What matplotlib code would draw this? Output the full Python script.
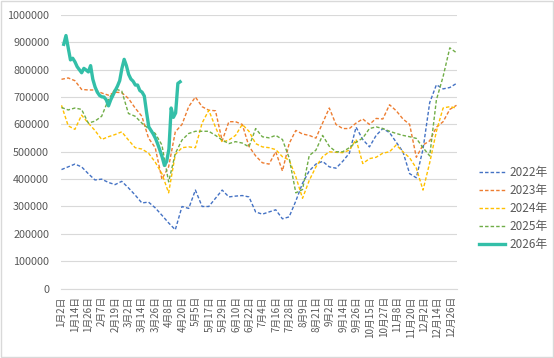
import numpy as np
import matplotlib
matplotlib.use('Agg')
import matplotlib.pyplot as plt

plt.rcParams['font.family'] = ['Noto Sans CJK SC', 'DejaVu Sans']

# category axis: one slot per trading day, a label every 12 slots
n_days = 354
tick_labels = ['1月2日', '1月14日', '1月26日', '2月7日', '2月19日', '3月2日', '3月14日',
               '3月26日', '4月8日', '4月20日', '5月5日', '5月17日', '5月29日', '6月10日',
               '6月22日', '7月4日', '7月16日', '7月28日', '8月9日', '8月21日', '9月2日',
               '9月14日', '9月26日', '10月15日', '10月27日', '11月8日', '11月20日',
               '12月2日', '12月14日', '12月26日']

# yearly series, sampled evenly over the year (thousands)
y2022 = [435, 445, 455, 445, 420, 397, 400, 388, 380, 392, 368, 342, 313, 316, 295, 268,
         240, 215, 300, 293, 360, 300, 300, 330, 360, 335, 338, 340, 335, 280, 272,
         280, 288, 255, 262, 320, 385, 430, 455, 465, 445, 440, 465, 495, 590, 545,
         518, 560, 585, 570, 535, 500, 420, 405, 510, 680, 745, 730, 735, 750]
y2023 = [765, 770, 760, 728, 726, 726, 715, 707, 718, 716, 695, 660, 630, 550, 515, 400,
         445, 573, 600, 665, 700, 665, 652, 650, 540, 610, 610, 600, 520, 485, 460,
         455, 500, 430, 530, 578, 565, 560, 550, 605, 660, 600, 585, 585, 605, 620,
         600, 622, 620, 672, 650, 620, 600, 480, 525, 540, 590, 610, 655, 670]
y2024 = [670, 595, 582, 634, 605, 578, 545, 555, 563, 573, 543, 515, 510, 495, 462, 420,
         350, 490, 515, 518, 515, 605, 652, 590, 535, 543, 560, 600, 575, 530, 518,
         515, 508, 482, 470, 409, 330, 395, 445, 482, 500, 498, 497, 506, 545, 457,
         475, 480, 495, 500, 525, 500, 478, 440, 360, 460, 575, 660, 665, 660]
y2025 = [662, 653, 660, 655, 605, 612, 630, 690, 730, 722, 640, 630, 605, 585, 567, 525,
         390, 494, 543, 567, 575, 575, 575, 560, 543, 530, 537, 532, 518, 585, 555,
         551, 560, 545, 478, 350, 362, 486, 506, 560, 520, 500, 500, 515, 535, 550,
         585, 591, 585, 575, 567, 560, 555, 549, 515, 485, 690, 775, 880, 862]
# 2026 so far, every 2nd trading day
y2026 = [np.nan, 893, 925, 880, 836, 842, 829, 811, 800, 789, 805, 799, 792, 815, 765,
         737, 718, 706, 701, 700, 690, 668, 690, 707, 724, 740, 760, 805, 838, 815, 783,
         766, 758, 744, 744, 724, 718, 704, 645, 591, 578, 565, 549, 528, 505, 480, 450,
         465, 510, 660, 626, 642, 750, 756]

years = ['2022年', '2023年', '2024年', '2025年']
yearly = [y2022, y2023, y2024, y2025]
colors = ['#4472C4', '#ED7D31', '#FFC000', '#70AD47']

fig = plt.figure(figsize=(5.54, 3.58), dpi=100)
ax = fig.add_axes([0.110, 0.194, 0.715, 0.764])

for name, vals, c in zip(years, yearly, colors):
    x = np.linspace(0, n_days - 1, len(vals))
    ax.plot(x, np.array(vals) * 1000, color=c, lw=1.0, ls=(0, (2.5, 1.5)), label=name)

x26 = np.arange(len(y2026)) * 2
ax.plot(x26, np.array(y2026) * 1000, color='#33BFA8', lw=2.4, label='2026年',
        solid_joinstyle='round')

ax.set_xlim(-0.5, n_days - 0.5)
ax.set_ylim(0, 1000000)
ax.set_yticks(np.arange(0, 1000001, 100000))
ax.set_yticklabels([str(v) for v in range(0, 1000001, 100000)])
ax.set_xticks(np.arange(len(tick_labels)) * 12)
ax.set_xticklabels(tick_labels, rotation=90)

ax.tick_params(axis='y', left=False, labelsize=7.8, labelcolor='#595959', pad=5)
ax.tick_params(axis='x', bottom=False, labelsize=7, labelcolor='#595959', pad=2)
ax.grid(axis='y', color='#D9D9D9', lw=0.8)
ax.set_axisbelow(True)
for s in ['top', 'right', 'left']:
    ax.spines[s].set_visible(False)
ax.spines['bottom'].set_color('#D9D9D9')

leg = fig.legend(loc='center left', bbox_to_anchor=(0.845, 0.418), frameon=False,
                 fontsize=8.5, handlelength=2.2, handletextpad=0.4, labelspacing=0.42)
for t in leg.get_texts():
    t.set_color('#595959')

# light border around the chart area
fig.patches.append(plt.Rectangle((0.002, 0.003), 0.996, 0.994, transform=fig.transFigure,
                                 fill=False, ec='#D9D9D9', lw=1))

fig.savefig('out.png', dpi=100)
